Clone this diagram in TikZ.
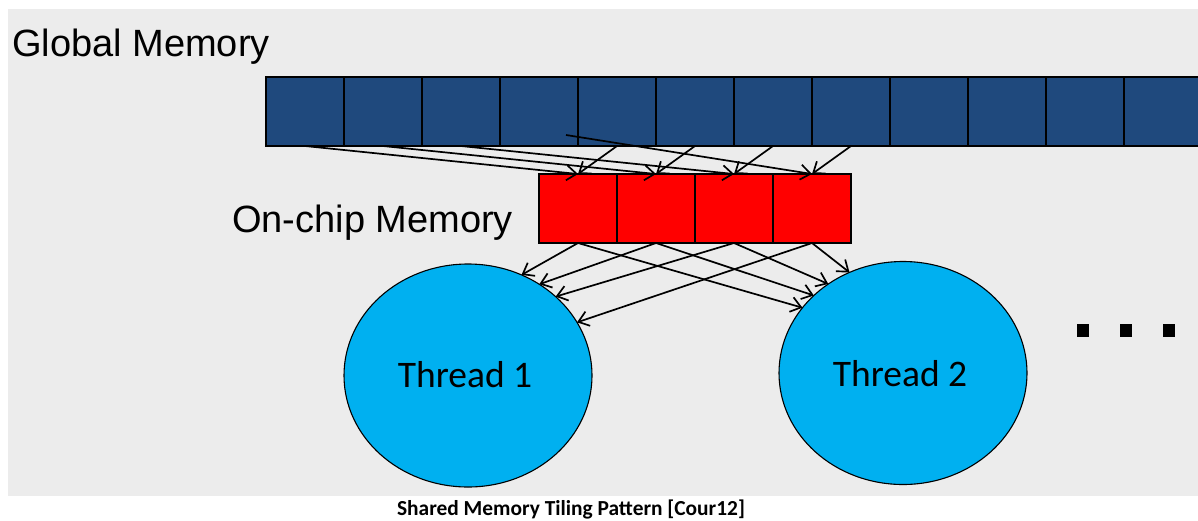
\documentclass[tikz,border=0pt]{standalone}
\usepackage{fontspec}
\setmainfont{Liberation Sans}
\newfontfamily\calibri{Carlito}
\usetikzlibrary{shapes.geometric,arrows.meta}

\definecolor{panelgray}{RGB}{236,236,236}
\definecolor{globalblue}{RGB}{31,73,125}
\definecolor{threadblue}{RGB}{0,176,240}

\begin{document}
\begin{tikzpicture}[x=1pt,y=-1pt,
  gcell/.style={draw=black, line width=1.2pt, fill=globalblue,
    minimum width=78pt, minimum height=69pt, inner sep=0pt, outer sep=0pt},
  ccell/.style={gcell, fill=red},
  thread/.style={ellipse, draw=black, line width=1.1pt, fill=threadblue,
    minimum width=248pt, minimum height=223pt, inner sep=0pt, outer sep=0pt},
  link/.style={draw=black, line width=1.7pt,
    -{Straight Barb[length=10pt,width=15pt,line width=1.7pt]}},
  bigtext/.style={font=\fontsize{38}{44}\selectfont, inner sep=0pt},
  threadtext/.style={font=\calibri\fontsize{37.5}{42}\selectfont, inner sep=0pt},
  dotbox/.style={fill=black, minimum width=12pt, minimum height=13pt, inner sep=0pt}
]
\useasboundingbox (0,0) rectangle (1198,520);
\fill[white] (0,0) rectangle (1198,520);
% backdrop panel
\fill[panelgray] (8,9) rectangle (1198,496);

% global memory row
\foreach \i in {1,...,12}
  \node[gcell] (g\i) at ({305+78*(\i-1)},111.5) {};
% on-chip memory row
\foreach \i in {1,...,4}
  \node[ccell] (c\i) at ({578+78*(\i-1)},208.5) {};

% threads
\node[thread] (t1) at (468,375.5) {};
\node[thread] (t2) at (903,373) {};

% labels
\node[bigtext, anchor=base west] (glabel) at (12,56) {Global Memory};
\node[bigtext, anchor=base west] (clabel) at (232,232) {On-chip Memory};
\node[threadtext, anchor=base] (t1label) at (465,387) {Thread 1};
\node[threadtext, anchor=base] (t2label) at (900,386) {Thread 2};

% loads from global memory into the tile
\coordinate (g4src) at (566,135);
\foreach \i in {1,2,3}
  \draw[link] (g\i.south) -- (c\i.north);
\draw[link] (g4src) -- (c4.north);
\foreach \i/\j in {5/1,6/2,7/3,8/4}
  \draw[link] (g\i.south) -- (c\j.north);

% tile shared with the threads
\foreach \i/\a in {1/62,2/52,3/42,4/26.5}
  \draw[link] (c\i.south) -- (t1.\a);
\foreach \i/\a in {1/147.5,2/139,3/130.5,4/118.5}
  \draw[link] (c\i.south) -- (t2.\a);

% ellipsis
\foreach \x [count=\k] in {1083,1126,1169}
  \node[dotbox] (dot\k) at (\x,330) {};

% caption
\node[font=\calibri\bfseries\fontsize{21.4}{24}\selectfont, anchor=base, inner sep=0pt]
  (caption) at (571,515) {Shared Memory Tiling Pattern [Cour12]};
\end{tikzpicture}
\end{document}
